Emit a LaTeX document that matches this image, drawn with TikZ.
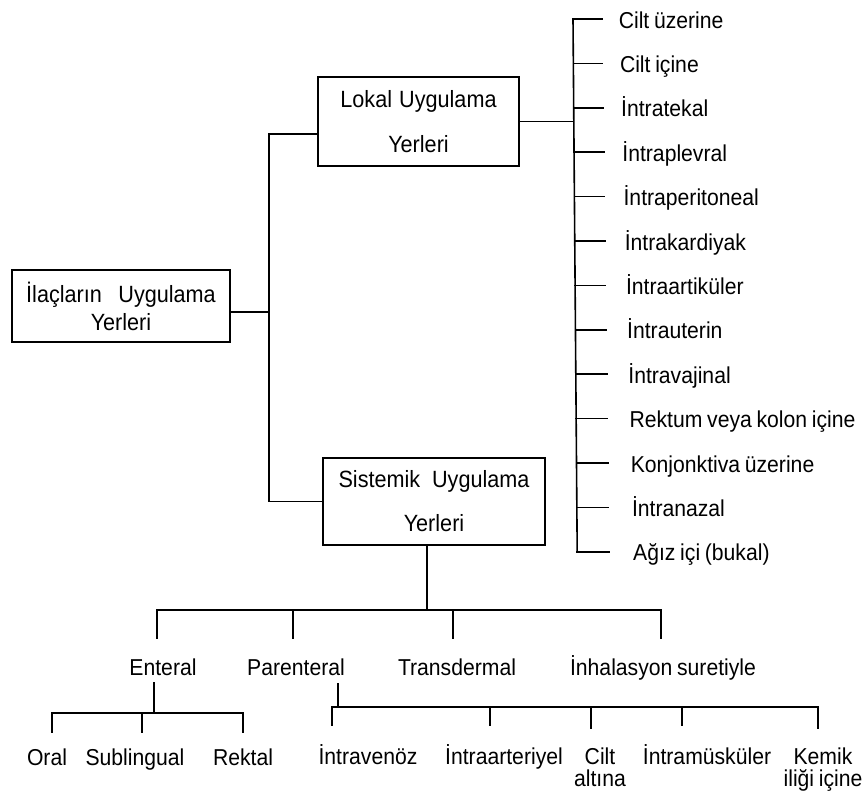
\documentclass[tikz,border=0pt]{standalone}
\usepackage{fontspec}
\setmainfont{Liberation Sans}[FakeStretch=0.92, WordSpace=0.8]
\newcommand\labfont{\fontsize{23}{22}\selectfont}
\begin{document}
\begin{tikzpicture}[x=1pt, y=-1pt, line width=1.6pt, line cap=rect, line join=miter,
  box/.style={draw, line width=1.7pt, inner sep=0pt, align=center},
  lbl/.style={inner sep=0pt, text height=16.5pt, text depth=4.5pt, font=\labfont},
  lbltwo/.style={inner sep=0pt, align=center, anchor=north, font=\labfont},
]
\path[fill=white] (0,0) rectangle (867,796);
\useasboundingbox (0,0) rectangle (867,796);

% --- the three boxes
\node[box, minimum width=218pt, minimum height=72pt, font=\fontsize{23.5}{28}\selectfont]
  (root) at (121,306) {İlaçların\hspace{0.5em} Uygulama\\Yerleri};
\node[box, minimum width=201pt, minimum height=89pt, font=\fontsize{23.5}{45}\selectfont]
  (lokal) at (418.5,121.5) {Lokal\hspace{0.1em} Uygulama\\Yerleri};
\node[box, minimum width=222pt, minimum height=87pt, font=\fontsize{23.5}{44}\selectfont]
  (sist) at (434,501.5) {Sistemik\hspace{0.3em} Uygulama\\Yerleri};

% --- trunk joining the root to the two main groups
\coordinate (trunk) at (269,0);
\coordinate (rootjoin) at (269,312);
\draw ([yshift=-6pt]root.east) -- (rootjoin);
\draw ([yshift=-12.5pt]lokal.west) -| (trunk |- sist.west) -- (sist.west);

% --- local application sites
\coordinate (rtop) at (573,19);
\draw (lokal.east) -- (lokal.east -| rtop);
\foreach \i/\t in {1/Cilt üzerine, 2/Cilt içine, 3/İntratekal, 4/İntraplevral,
    5/İntraperitoneal, 6/İntrakardiyak, 7/İntraartiküler, 8/İntrauterin,
    9/İntravajinal, 10/Rektum veya kolon içine, 11/Konjonktiva üzerine,
    12/İntranazal, 13/Ağız içi (bukal)} {
  \coordinate (t\i) at ({573+0.35*(\i-1)}, {19+44.4*(\i-1)});
  \node[lbl, anchor=base west] (r\i) at ({618+1.2*(\i-1)}, {28+44.4*(\i-1)}) {\t};
  \draw[shorten >={16pt+0.6pt*(\i-1)}] (t\i) -- (t\i -| r\i.west);
}
\draw (t1) -- (t13);

% --- systemic application: routes
\node[lbl, anchor=base] (ent) at (163,675) {Enteral};
\node[lbl, anchor=base] (par) at (296,675) {Parenteral};
\node[lbl, anchor=base] (tra) at (457,675) {Transdermal};
\node[lbl, anchor=base] (inh) at (663,675) {İnhalasyon suretiyle};

\coordinate (bus) at (427,610);
\draw ([xshift=-7pt]sist.south) -- (bus);
\coordinate (kent) at (157,610);
\coordinate (kpar) at (293,610);
\coordinate (ktra) at (453,610);
\coordinate (kinh) at (661,610);
\draw (kent) -- (kinh);
\foreach \n in {ent,par,tra,inh}
  \draw[shorten >=19.5pt] (k\n) -- (k\n |- \n.north);

% --- enteral routes
\node[lbl, anchor=base] (oral) at (47,765) {Oral};
\node[lbl, anchor=base] (subl) at (135,765) {Sublingual};
\node[lbl, anchor=base] (rekt) at (243,765) {Rektal};
\coordinate (ebus) at (154,713);
\draw[shorten <=2pt] (ebus |- ent.south) -- (ebus);
\coordinate (koral) at (52,713);
\coordinate (ksubl) at (142,713);
\coordinate (krekt) at (243,713);
\draw (koral) -- (krekt);
\foreach \n in {oral,subl,rekt}
  \draw[shorten >=15.5pt] (k\n) -- (k\n |- \n.north);

% --- parenteral routes
\node[lbl, anchor=base] (iv) at (368,764) {İntravenöz};
\node[lbl, anchor=base] (ia) at (504,764) {İntraarteriyel};
\node[lbltwo] (sc) at (600,747) {Cilt\\altına};
\node[lbl, anchor=base] (im) at (707,764) {İntramüsküler};
\node[lbltwo] (io) at (823,747) {Kemik\\iliği içine};
\coordinate (pbus) at (338,707);
\draw[shorten <=3pt] (pbus |- par.south) -- (pbus);
\coordinate (kiv) at (332,707);
\coordinate (kia) at (490,707);
\coordinate (ksc) at (591,707);
\coordinate (kim) at (682,707);
\coordinate (kio) at (818,707);
\draw (kiv) -- (kio);
\foreach \n in {iv,ia,im}
  \draw[shorten >=21.5pt] (k\n) -- (k\n |- \n.north);
\foreach \n in {sc,io}
  \draw[shorten >=19pt] (k\n) -- (k\n |- \n.north);
\end{tikzpicture}
\end{document}
